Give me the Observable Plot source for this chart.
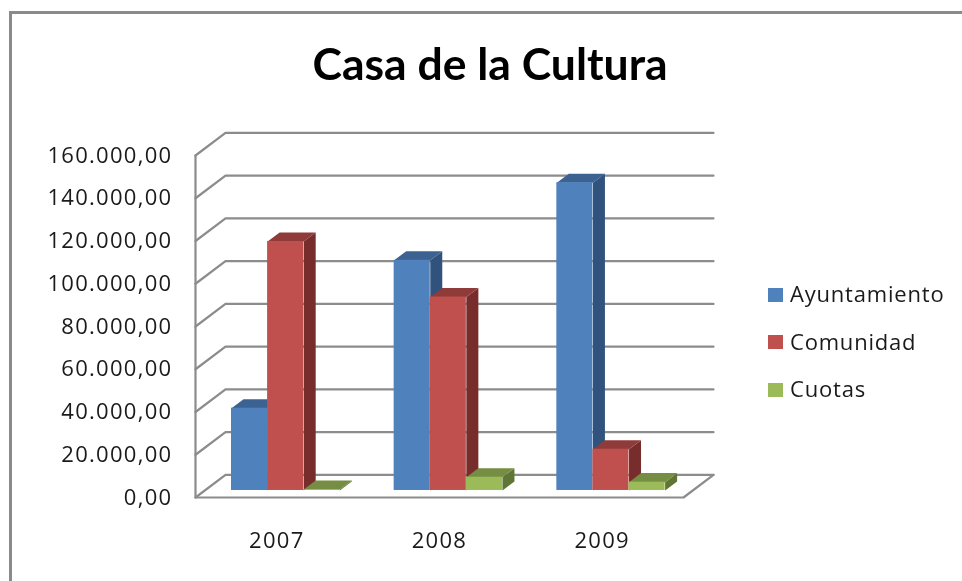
<!DOCTYPE html>
<html lang="es">
<head>
<meta charset="utf-8">
<script src="https://cdn.jsdelivr.net/npm/d3@7"></script>
<script src="https://cdn.jsdelivr.net/npm/@observablehq/plot@0.6"></script>
<style>
  html, body { margin: 0; padding: 0; background: #fff; }
  #page { position: relative; width: 962px; height: 581px; overflow: hidden; font-family: "Open Sans", sans-serif; color: #1a1a1a; filter: blur(0.45px); }
  #frame { position: absolute; left: 9px; top: 11px; right: -10px; bottom: -10px; border: 3px solid #8a8a8a; }
  #title { height: 100px; padding-left: 18px; box-sizing: border-box; text-align: center; font: bold 44.5px/126px Lato, sans-serif; color: #000; }
  #chart svg { display: block; font-family: "Open Sans", sans-serif; letter-spacing: 1.3px; }
  #legend { position: absolute; left: 768px; top: 271px; font-size: 22px; letter-spacing: 0.8px; }
  #legend div { display: flex; align-items: center; height: 47.5px; }
  #legend i { width: 15px; height: 14px; margin-right: 7px; }
  #legend span { position: relative; top: -1.5px; }
</style>
</head>
<body>
<div id="page">
  <div id="frame"></div>
  <div id="title">Casa de la Cultura</div>
  <div id="chart"></div>
  <div id="legend"></div>
</div>
<script>
const years = ["2007", "2008", "2009"];
const ayuntamiento = [38500, 107700, 144000];
const comunidad = [116500, 90500, 19300];
const cuotas = [400, 6200, 3900];
const seriesNames = ["Ayuntamiento", "Comunidad", "Cuotas"];
const seriesValues = [ayuntamiento, comunidad, cuotas];
const frontColors = ["#4F81BD", "#C0504D", "#9BBB59"];
const topColors = ["#3C6291", "#8F3B39", "#758E43"];
const sideColors = ["#30527C", "#772D2B", "#5E7535"];
const yTicks = [0, 20000, 40000, 60000, 80000, 100000, 120000, 140000, 160000];

// Geometry of the fake 3D box, in data units of the x (category) and y (value) scales
const xPerPx = 1 / 162.67, yPerPx = 160000 / 341;
const wallDx = 30 * xPerPx, wallDy = 22.5 * yPerPx;
const barDx = 12 * xPerPx, barDy = 9 * yPerPx;
const barBase = 7 * yPerPx, barStart = -0.2787, barWidth = 36.1 * xPerPx;

const fmt = d3.formatLocale({decimal: ",", thousands: ".", grouping: [3]}).format(",.2f");

const grid = yTicks.flatMap((v, k) => [
  {id: k, x: -0.5, y: v},
  {id: k, x: -0.5 + wallDx, y: v + wallDy},
  {id: k, x: 2.5 + wallDx, y: v + wallDy}
]);
const box = [
  {id: "front", x: -0.5, y: 160000},
  {id: "front", x: -0.5, y: 0},
  {id: "front", x: 2.5, y: 0},
  {id: "front", x: 2.5 + wallDx, y: wallDy}
];

const seriesMarks = seriesValues.flatMap((values, s) => {
  const bars = values.map((v, i) => {
    const x1 = i + barStart + s * barWidth;
    return {id: s + "-" + i, x1, x2: x1 + barWidth, y1: barBase, y2: barBase + v};
  });
  const side = bars.flatMap(b => [
    {id: b.id, x: b.x2, y: b.y1},
    {id: b.id, x: b.x2 + barDx, y: b.y1 + barDy},
    {id: b.id, x: b.x2 + barDx, y: b.y2 + barDy},
    {id: b.id, x: b.x2, y: b.y2}
  ]);
  const top = bars.flatMap(b => [
    {id: b.id, x: b.x1, y: b.y2},
    {id: b.id, x: b.x1 + barDx, y: b.y2 + barDy},
    {id: b.id, x: b.x2 + barDx, y: b.y2 + barDy},
    {id: b.id, x: b.x2, y: b.y2}
  ]);
  return [
    Plot.line(side, {x: "x", y: "y", z: "id", fill: sideColors[s], stroke: "none"}),
    Plot.line(top, {x: "x", y: "y", z: "id", fill: topColors[s], stroke: "none"}),
    Plot.rect(bars, {x1: "x1", x2: "x2", y1: "y1", y2: "y2", fill: frontColors[s]})
  ];
});

const plot = Plot.plot({
  width: 962,
  height: 481,
  marginLeft: 195,
  marginRight: 279,
  marginTop: 55,
  marginBottom: 84,
  style: {background: "transparent", fontSize: "22px", color: "#1a1a1a"},
  x: {type: "linear", domain: [-0.5, 2.5]},
  y: {domain: [0, 160000]},
  marks: [
    Plot.line(grid, {x: "x", y: "y", z: "id", stroke: "#8c8c8c", strokeWidth: 2.2}),
    Plot.line(box, {x: "x", y: "y", z: "id", stroke: "#8c8c8c", strokeWidth: 2.2}),
    ...seriesMarks,
    Plot.axisY({ticks: yTicks, tickFormat: fmt, tickSize: 0, tickPadding: 23, label: null, fontSize: 22}),
    Plot.axisX({ticks: [0, 1, 2], tickFormat: i => years[i], tickSize: 0, tickPadding: 35, label: null, fontSize: 22})
  ]
});
document.getElementById("chart").appendChild(plot);

const legend = d3.select("#legend");
seriesNames.forEach((name, s) => {
  const row = legend.append("div");
  row.append("i").style("background", frontColors[s]);
  row.append("span").text(name);
});
</script>
</body>
</html>
